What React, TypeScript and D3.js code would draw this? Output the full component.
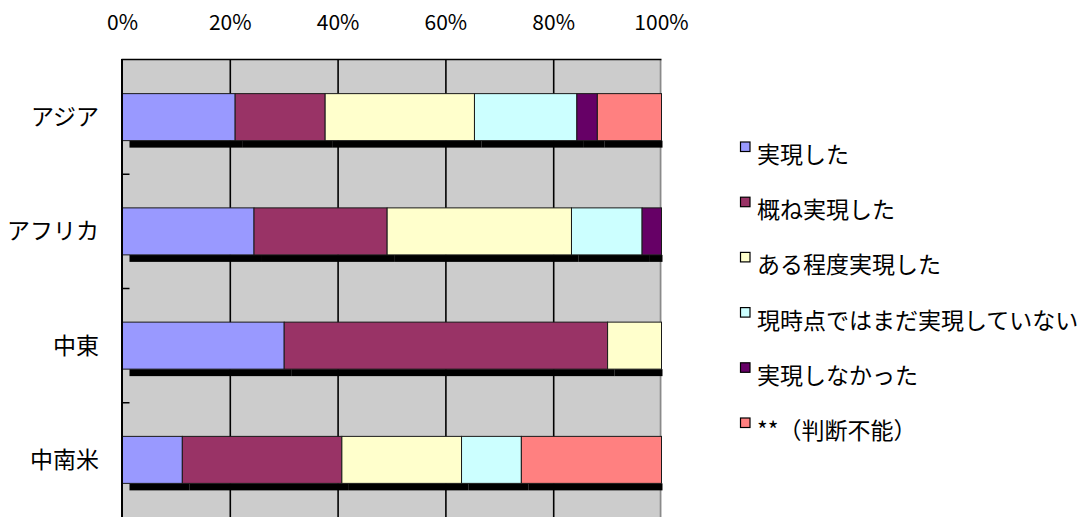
import React from "react";
import * as d3 from "d3";

const categories = ["アジア", "アフリカ", "中東", "中南米"];
const seriesNames = [
  "実現した",
  "概ね実現した",
  "ある程度実現した",
  "現時点ではまだ実現していない",
  "実現しなかった",
  "**（判断不能）",
];
const seriesColors = ["#9999FF", "#993366", "#FFFFCC", "#CCFFFF", "#660066", "#FF8080"];
// percentages per category, series order as above
const s1 = [20.9, 24.4, 30.0, 11.1];
const s2 = [16.7, 24.7, 60.0, 29.6];
const s3 = [27.7, 34.2, 10.0, 22.2];
const s4 = [19.0, 13.1, 0, 11.1];
const s5 = [3.8, 3.6, 0, 0];
const s6 = [11.9, 0, 0, 26.0];
const tickValues = [0, 20, 40, 60, 80, 100];

const W = 1082;
const H = 517;
const FONT = "'Noto Sans CJK JP', 'Noto Sans', sans-serif";

export default function App() {
  const left = 122.5;
  const right = 661.5;
  const top = 60;
  const bottom = 517;
  const x = d3.scaleLinear().domain([0, 100]).range([left, right]);
  const y = d3.scaleBand<string>().domain(categories).range([top, bottom]).padding(0);
  const barH = 47;
  const shadow = 7;

  const rows = categories.map((c, i) => {
    const obj: any = { cat: c };
    [s1, s2, s3, s4, s5, s6].forEach((s, k) => (obj["k" + k] = s[i]));
    return obj;
  });
  const keys = seriesNames.map((_, k) => "k" + k);
  const stacked = d3.stack<any>().keys(keys)(rows);

  const bw = y.bandwidth();
  const barTop = (c: string) => (y(c) as number) + bw / 2 - barH / 2;

  const legendY0 = 155;
  const legendStep = 55.2;

  return (
    <div style={{ position: "absolute", left: 0, top: 0 }}>
      <svg width={W} height={H} style={{ display: "block" }} fontFamily={FONT}>
        <rect x={0} y={0} width={W} height={H} fill="#FFFFFF" />
        {/* plot background */}
        <rect x={left} y={top} width={right - left} height={bottom - top} fill="#CCCCCC" />
        {/* gridlines */}
        {tickValues.slice(1, -1).map((t) => (
          <line key={t} x1={x(t)} x2={x(t)} y1={top} y2={bottom} stroke="#000" strokeWidth={1.6} />
        ))}
        {/* right border */}
        <line x1={right - 1} x2={right - 1} y1={top} y2={bottom} stroke="#8A8A8A" strokeWidth={1.6} />
        {/* top border */}
        <line x1={left - 1} x2={right} y1={top - 0.5} y2={top - 0.5} stroke="#000" strokeWidth={1.6} />
        {/* shadows */}
        {stacked.map((layer, k) =>
          layer.map((d, i) => {
            const v0 = d[0];
            const v1 = d[1];
            if (v1 - v0 <= 0) return null;
            const c = categories[i];
            const x0 = x(v0) + shadow;
            const x1 = Math.min(x(v1) + shadow, right + 1);
            if (x1 <= x0) return null;
            return (
              <rect
                key={"s" + k + "-" + i}
                x={x0}
                y={barTop(c) + barH}
                width={x1 - x0}
                height={shadow}
                fill="#000"
              />
            );
          })
        )}
        {/* bars */}
        {stacked.map((layer, k) =>
          layer.map((d, i) => {
            const v0 = d[0];
            const v1 = d[1];
            if (v1 - v0 <= 0) return null;
            const c = categories[i];
            return (
              <rect
                key={"b" + k + "-" + i}
                x={x(v0)}
                y={barTop(c)}
                width={x(v1) - x(v0)}
                height={barH}
                fill={seriesColors[k]}
                stroke="#1a1a1a"
                strokeWidth={1}
              />
            );
          })
        )}
        {/* left axis */}
        <line x1={left - 0.5} x2={left - 0.5} y1={top - 1} y2={bottom} stroke="#000" strokeWidth={2} />
        {categories.slice(1).map((c) => (
          <line
            key={"t" + c}
            x1={left}
            x2={left + 7}
            y1={(y(c) as number)}
            y2={(y(c) as number)}
            stroke="#000"
            strokeWidth={1.5}
          />
        ))}
        {/* top tick labels */}
        {tickValues.map((t) => (
          <text key={"l" + t} x={x(t)} y={30} textAnchor="middle" fontSize={21} fill="#000">
            {t + "%"}
          </text>
        ))}
        {/* category labels */}
        {categories.map((c) => (
          <text
            key={"c" + c}
            x={99}
            y={(y(c) as number) + bw / 2 + 8}
            textAnchor="end"
            fontSize={23}
            fill="#000"
          >
            {c}
          </text>
        ))}
        {/* legend */}
        {seriesNames.map((n, k) => {
          const cy = legendY0 + k * legendStep;
          return (
            <g key={"lg" + k}>
              <rect x={740.5} y={cy - 13} width={9.5} height={9.5} fill={seriesColors[k]} stroke="#000" strokeWidth={1.2} />
              <text x={757} y={cy + 8} fontSize={23} fill="#000">
                {n}
              </text>
            </g>
          );
        })}
      </svg>
    </div>
  );
}
